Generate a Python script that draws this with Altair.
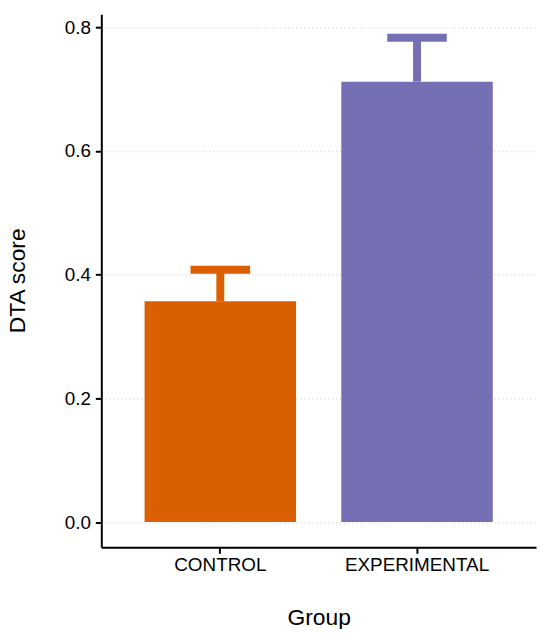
import altair as alt
import pandas as pd

groups = ["CONTROL", "EXPERIMENTAL"]
means = [0.357, 0.712]
uppers = [0.408, 0.783]
colors = ["#D95F02", "#7570B3"]

df = pd.DataFrame({"Group": groups, "mean": means, "upper": uppers})

FONT = "Liberation Sans"

x_enc = alt.X(
    "Group:N",
    sort=groups,
    scale=alt.Scale(paddingInner=0.23, paddingOuter=0.22),
    axis=alt.Axis(
        title="Group",
        labelAngle=0,
        labelFontSize=19,
        labelColor="#000000",
        labelFont=FONT,
        labelPadding=2,
        titleFontSize=23,
        titleFont=FONT,
        titleFontWeight="normal",
        titleColor="#000000",
        titleX=219,
        titleY=78,
        titleBaseline="alphabetic",
        titleAnchor="middle",
        domainColor="#000000",
        domainWidth=2,
        tickColor="#000000",
        tickWidth=2,
        tickSize=6,
        grid=False,
    ),
)

y_scale = alt.Scale(domain=[-0.0408, 0.821], nice=False, zero=False)
y_axis = alt.Axis(
    title="DTA score",
    values=[0, 0.2, 0.4, 0.6, 0.8],
    format=".1f",
    labelFontSize=19,
    labelColor="#000000",
    labelFont=FONT,
    labelPadding=5,
    titleFontSize=23,
    titleFont=FONT,
    titleFontWeight="normal",
    titleColor="#000000",
    titleX=-77,
    titleY=268,
    titleAngle=-90,
    titleAlign="center",
    titleBaseline="alphabetic",
    domainColor="#000000",
    domainWidth=2,
    tickColor="#000000",
    tickWidth=2,
    tickSize=6,
    grid=True,
    gridColor="#c8c8c8",
    gridDash=[1, 3],
    gridWidth=1,
)

color_enc = alt.Color(
    "Group:N",
    scale=alt.Scale(domain=groups, range=colors),
    legend=None,
)

base = alt.Chart(df)

rule = base.mark_rule(strokeWidth=8).encode(
    x=x_enc,
    y=alt.Y("mean:Q", scale=y_scale, axis=y_axis),
    y2="upper:Q",
    color=color_enc,
)

cap = base.mark_tick(thickness=8, size=60, opacity=1).encode(
    x=x_enc,
    y=alt.Y("upper:Q", scale=y_scale, axis=y_axis),
    color=color_enc,
)

bars = base.mark_bar(opacity=1).encode(
    x=x_enc,
    y=alt.Y("mean:Q", scale=y_scale, axis=y_axis),
    y2=alt.datum(0),
    color=color_enc,
)

chart = (
    alt.layer(rule, cap, bars)
    .properties(
        width=438,
        height=537,
        autosize=alt.AutoSizeParams(type="none"),
        padding={"left": 94, "top": 4, "right": 6, "bottom": 80},
        background="white",
    )
    .configure_view(stroke=None)
)

chart.save("out.html", embed_options={"renderer": "svg", "actions": False})
